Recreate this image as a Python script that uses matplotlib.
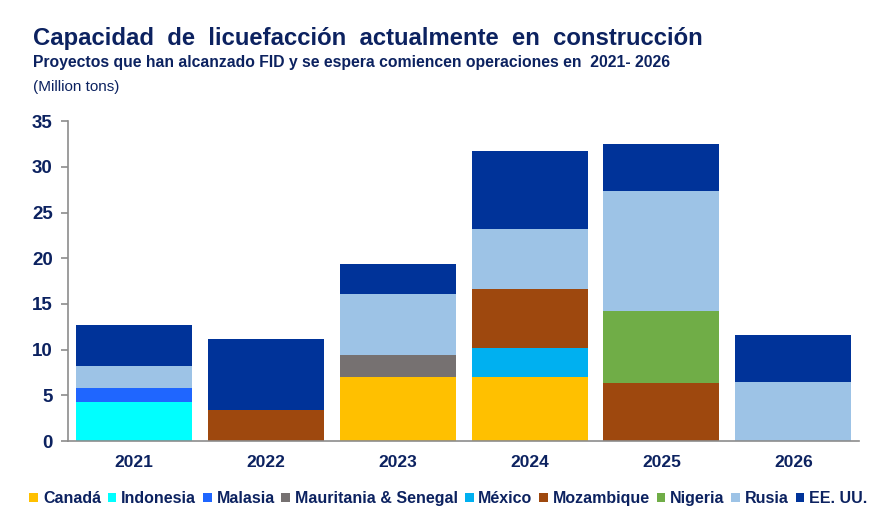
import matplotlib.pyplot as plt
import numpy as np

plt.rcParams['font.family'] = ['Liberation Sans', 'DejaVu Sans']

years = ['2021', '2022', '2023', '2024', '2025', '2026']
countries = ['Canadá', 'Indonesia', 'Malasia', 'Mauritania & Senegal', 'México',
             'Mozambique', 'Nigeria', 'Rusia', 'EE. UU.']
canada = [0, 0, 7.0, 7.0, 0, 0]
indonesia = [4.3, 0, 0, 0, 0, 0]
malasia = [1.5, 0, 0, 0, 0, 0]
mauritania = [0, 0, 2.4, 0, 0, 0]
mexico = [0, 0, 0, 3.2, 0, 0]
mozambique = [0, 3.4, 0, 6.4, 6.35, 0]
nigeria = [0, 0, 0, 0, 7.9, 0]
rusia = [2.4, 0, 6.7, 6.6, 13.1, 6.5]
eeuu = [4.5, 7.8, 3.3, 8.55, 5.2, 5.1]

series = [canada, indonesia, malasia, mauritania, mexico, mozambique, nigeria, rusia, eeuu]
colors = ['#FFC000', '#00FFFF', '#1F66FF', '#767171', '#00B0F0',
          '#9E480E', '#70AD47', '#9DC3E6', '#003399']
navy = '#0C2260'

fig = plt.figure(figsize=(8.95, 5.25), dpi=100)
ax = fig.add_axes([0.076, 0.16, 0.884, 0.609])

x = np.arange(len(years))
bottom = np.zeros(len(years))
for name, vals, c in zip(countries, series, colors):
    ax.bar(x, vals, width=0.88, bottom=bottom, color=c, label=name)
    bottom += np.array(vals)

ax.set_xlim(-0.5, len(years) - 0.5)
ax.set_ylim(0, 35)
ax.set_yticks(range(0, 36, 5))
ax.set_xticks(x)
ax.set_xticklabels(years)
for s in ['top', 'right']:
    ax.spines[s].set_visible(False)
for s in ['left', 'bottom']:
    ax.spines[s].set_color('#8C8C8C')
    ax.spines[s].set_linewidth(1.2)
ax.tick_params(axis='y', colors='#8C8C8C', length=5, width=1.2, labelsize=13.5, pad=6)
ax.tick_params(axis='x', length=0, labelsize=12.5, pad=10)
for lab in ax.get_yticklabels() + ax.get_xticklabels():
    lab.set_color(navy)
    lab.set_fontweight('bold')

fig.text(0.037, 0.915, 'Capacidad  de  licuefacción  actualmente  en  construcción',
         fontsize=17.2, fontweight='bold', color=navy)
fig.text(0.037, 0.872, 'Proyectos que han alcanzado FID y se espera comiencen operaciones en  2021- 2026',
         fontsize=11.3, fontweight='bold', color=navy)
fig.text(0.037, 0.826, '(Million tons)', fontsize=11, color=navy)

leg = fig.legend(loc='center', bbox_to_anchor=(0.501, 0.05), ncol=9, frameon=False,
                 handlelength=0.55, handleheight=0.55, handletextpad=0.3, columnspacing=0.42,
                 prop={'size': 11.5, 'weight': 'bold'})
for t in leg.get_texts():
    t.set_color(navy)

fig.savefig('out.png', dpi=100)
